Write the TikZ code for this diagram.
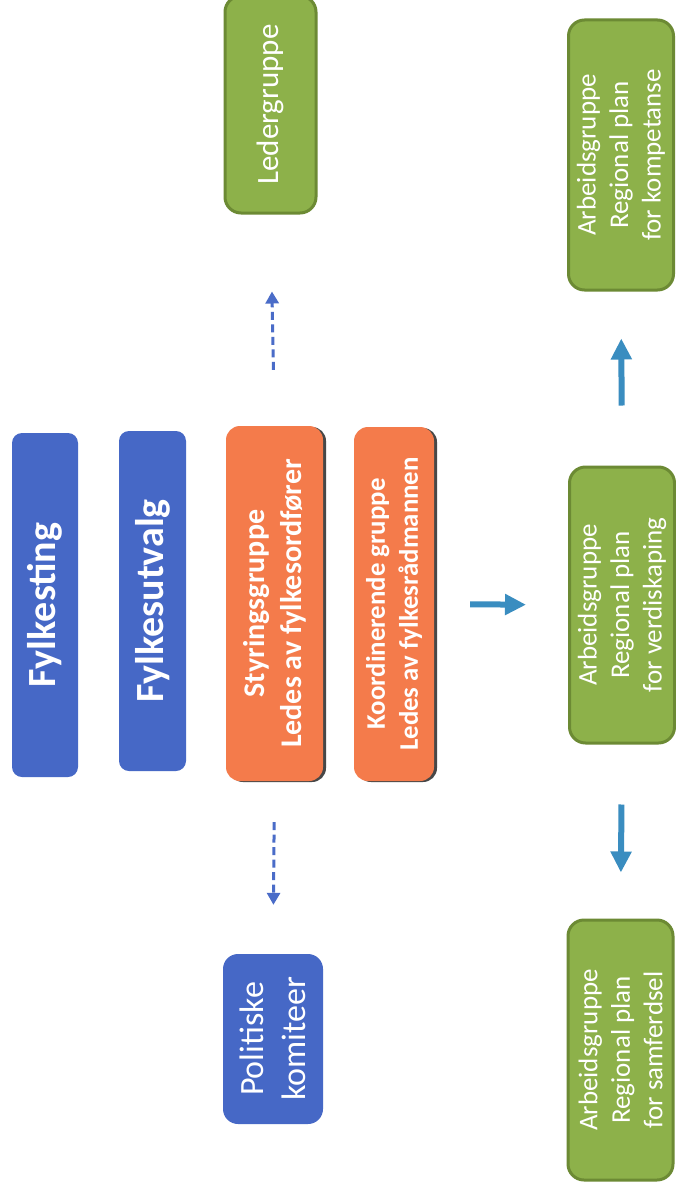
\documentclass[tikz,border=0pt]{standalone}
\usepackage{fontspec}
\setmainfont{Carlito}
\usetikzlibrary{arrows.meta,shadows}
\definecolor{boxblue}{HTML}{4668C6}
\definecolor{boxorange}{HTML}{F47B4B}
\definecolor{boxgreen}{HTML}{8DB14A}
\definecolor{greenline}{HTML}{6C8A34}
\definecolor{arrowteal}{HTML}{3A8DC0}
\definecolor{arrowblue}{HTML}{4A6CC8}
\tikzset{
  basebox/.style={rotate=90, text=white, inner sep=0pt, align=center},
  bluebox/.style={basebox, fill=boxblue, rounded corners=10pt},
  orangebox/.style={basebox, fill=boxorange, rounded corners=14pt,
     drop shadow={shadow xshift=3pt, shadow yshift=-1pt, fill=black!80, opacity=0.9}},
  greenbox/.style={basebox, fill=boxgreen, draw=greenline, line width=3pt, rounded corners=16pt},
  solidarrow/.style={draw=arrowteal, line width=6pt, -{Triangle[width=20pt,length=21pt]}},
  dasharrow/.style={draw=arrowblue, line width=3pt, dash pattern=on 8pt off 4.5pt, -{Triangle[width=13pt,length=12pt]}},
}
\begin{document}
\begin{tikzpicture}[x=1pt,y=-1pt]
\useasboundingbox[fill=white] (0,0) rectangle (675,1193);
% blue
\node[bluebox, minimum width=344pt, minimum height=66pt, font=\bfseries\fontsize{40}{48}\selectfont] (fylkesting) at (45,605) {Fylkesting};
\node[bluebox, minimum width=340pt, minimum height=67pt, font=\bfseries\fontsize{40}{48}\selectfont] (fylkesutvalg) at (152.5,601) {Fylkesutvalg};
\node[bluebox, rounded corners=15pt, minimum width=170pt, minimum height=100pt, font=\fontsize{34}{42}\selectfont] (politiske) at (273,1039) {Politiske\\komiteer};
% orange
\node[orangebox, minimum width=355pt, minimum height=97pt, font=\bfseries\fontsize{30}{37}\selectfont] (styring) at (274.5,603.5) {Styringsgruppe\\Ledes av fylkesordfører};
\node[orangebox, minimum width=354pt, minimum height=80pt, font=\bfseries\fontsize{26.8}{33}\selectfont] (koord) at (394,604) {Koordinerende gruppe\\Ledes av fylkesrådmannen};
% green
\node[greenbox, minimum width=217pt, minimum height=91pt, font=\fontsize{31}{38}\selectfont] (leder) at (270.5,104.5) {Ledergruppe};
\node[greenbox, minimum width=270pt, minimum height=105pt, font=\fontsize{27}{32.5}\selectfont] (kompetanse) at (621,155) {Arbeidsgruppe\\Regional plan\\for kompetanse};
\node[greenbox, minimum width=276pt, minimum height=105pt, font=\fontsize{27}{32.5}\selectfont] (verdi) at (622,605) {Arbeidsgruppe\\Regional plan\\for verdiskaping};
\node[greenbox, minimum width=260pt, minimum height=105pt, font=\fontsize{27}{32.5}\selectfont] (samferdsel) at (620.5,1050) {Arbeidsgruppe\\Regional plan\\for samferdsel};
% arrows
\draw[dasharrow, shorten <=56pt, shorten >=77pt] (styring.east) -- (leder.west);
\draw[dasharrow, shorten <=41pt, shorten >=49pt] (styring.west) -- (politiske.east);
\draw[solidarrow, shorten <=36pt, shorten >=42pt] (koord.south) -- (verdi.north);
\draw[solidarrow, shorten <=60pt, shorten >=47pt] (verdi.east) -- (kompetanse.west);
\draw[solidarrow, shorten <=60pt, shorten >=46pt] (verdi.west) -- (samferdsel.east);
\end{tikzpicture}
\end{document}
